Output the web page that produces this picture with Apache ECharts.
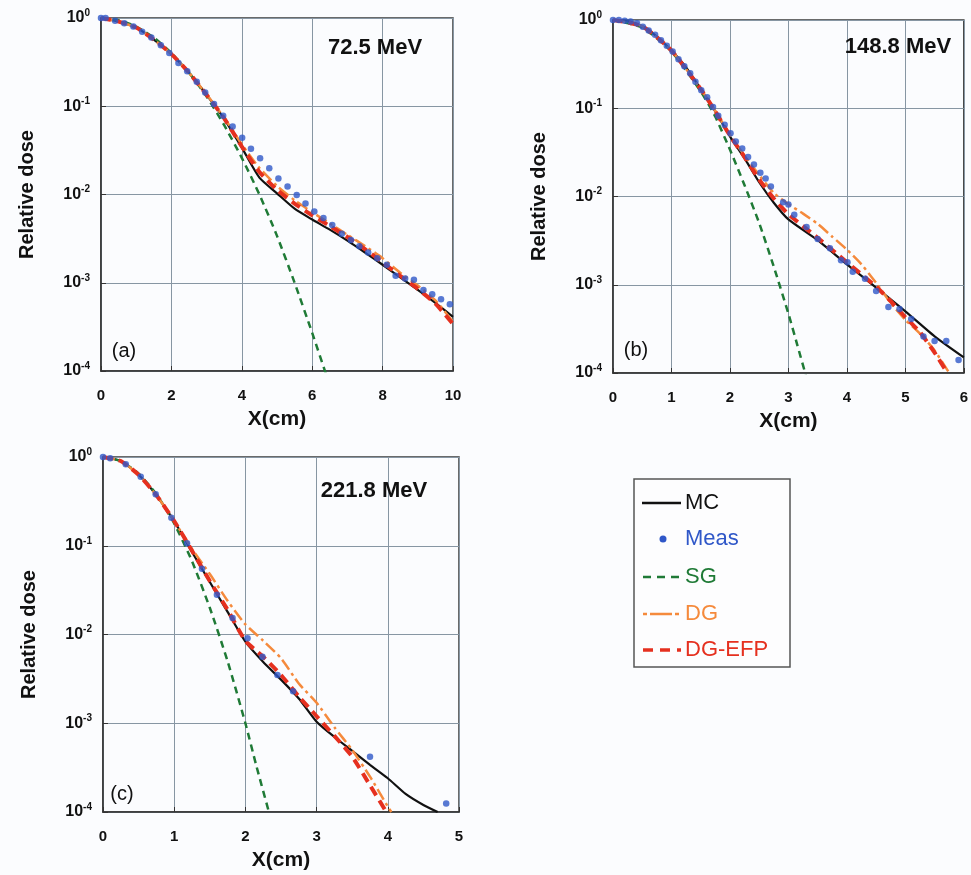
<!DOCTYPE html>
<html>
<head>
<meta charset="utf-8">
<script src="https://cdn.jsdelivr.net/npm/echarts@6/dist/echarts.min.js"></script>
<style>
html,body{margin:0;padding:0;background:#fbfcfe;}
#c{width:971px;height:875px;}
</style>
</head>
<body>
<div id="c"></div>
<script>
// ---------- Panel (a) 72.5 MeV ----------
const a_mc_x  = [0,0.5,1,1.5,2,2.5,3,3.5,4,4.5,5,5.5,6,6.5,7,7.5,8,8.5,9,9.5,10];
const a_mc_y  = [1,0.91,0.78,0.57,0.39,0.24,0.135,0.072,0.034,0.0155,0.0103,0.0069,0.0052,0.0040,0.0030,0.0022,0.0016,0.00115,0.00083,0.00059,0.00041];
const a_sg_x  = [0,0.5,1,1.5,2,2.5,3,3.5,4,4.5,5,5.5,6,6.4];
const a_sg_y  = [1,0.945,0.80,0.60,0.40,0.24,0.129,0.061,0.026,0.0100,0.0034,0.0010,0.00027,0.00009];
const a_dg_x  = [0,0.5,1,1.5,2,2.5,3,3.5,4,4.5,5,5.5,6,6.5,7,7.5,8,8.5,9,9.5,10];
const a_dg_y  = [1,0.91,0.78,0.57,0.39,0.24,0.136,0.074,0.037,0.020,0.0125,0.0086,0.0063,0.0047,0.0035,0.0026,0.0019,0.0013,0.00093,0.00063,0.00036];
const a_efp_x = [0,0.5,1,1.5,2,2.5,3,3.5,4,4.5,5,5.5,6,6.5,7,7.5,8,8.5,9,9.5,10];
const a_efp_y = [1,0.91,0.78,0.57,0.39,0.24,0.135,0.073,0.035,0.018,0.0113,0.0079,0.0058,0.0044,0.0033,0.0024,0.0017,0.0012,0.00085,0.00058,0.00034];
const a_meas_x = [0,0.13,0.40,0.66,0.92,1.17,1.43,1.70,1.94,2.20,2.45,2.72,2.96,3.21,3.47,3.74,4.01,4.26,4.52,4.78,5.04,5.30,5.56,5.81,6.06,6.32,6.57,6.84,7.10,7.34,7.59,7.85,8.12,8.37,8.64,8.89,9.16,9.41,9.66,9.91];
const a_meas_y = [1.0,1.0,0.93,0.87,0.80,0.70,0.60,0.49,0.40,0.31,0.25,0.19,0.143,0.106,0.078,0.059,0.044,0.033,0.0257,0.0199,0.0152,0.0123,0.0099,0.0079,0.0064,0.0054,0.0045,0.0036,0.00305,0.0026,0.0022,0.0019,0.0016,0.0012,0.00112,0.00108,0.00083,0.00074,0.00065,0.00057];

// ---------- Panel (b) 148.8 MeV ----------
const b_mc_x  = [0,0.25,0.5,0.75,1,1.25,1.5,1.75,2,2.25,2.5,2.75,3,3.5,4,4.5,5,5.5,6];
const b_mc_y  = [1,0.975,0.85,0.65,0.45,0.29,0.165,0.092,0.048,0.027,0.0145,0.0085,0.0055,0.0032,0.0017,0.00093,0.00050,0.00026,0.00015];
const b_sg_x  = [0,0.5,1,1.5,1.75,2,2.25,2.5,2.75,3,3.15,3.3];
const b_sg_y  = [1,0.82,0.44,0.155,0.080,0.034,0.0134,0.0050,0.0016,0.00047,0.00021,0.000093];
const b_dg_x  = [0,0.5,1,1.5,1.75,2,2.25,2.5,2.75,3,3.25,3.5,3.75,4,4.25,4.5,4.75,5,5.25,5.5,5.75];
const b_dg_y  = [1,0.85,0.45,0.165,0.093,0.050,0.029,0.0175,0.0110,0.0082,0.0064,0.0049,0.0035,0.0025,0.0017,0.00105,0.00062,0.00040,0.00028,0.00018,0.0001];
const b_efp_x = [0,0.5,1,1.5,1.75,2,2.25,2.5,2.75,3,3.5,4,4.5,4.75,5,5.25,5.5,5.72];
const b_efp_y = [1,0.85,0.45,0.165,0.092,0.049,0.028,0.0155,0.0095,0.0063,0.0034,0.0018,0.00095,0.00065,0.00043,0.00029,0.00017,0.0001];
const b_meas_x = [0,0.10,0.20,0.30,0.41,0.51,0.61,0.72,0.82,0.92,1.02,1.12,1.22,1.32,1.41,1.51,1.61,1.71,1.80,1.91,2.01,2.10,2.21,2.31,2.41,2.52,2.61,2.70,2.91,3.00,3.10,3.31,3.50,3.71,3.90,4.01,4.10,4.31,4.50,4.71,4.90,5.10,5.31,5.50,5.70,5.91];
const b_meas_y = [1.0,1.0,0.98,0.96,0.92,0.84,0.76,0.68,0.59,0.51,0.44,0.36,0.30,0.25,0.20,0.16,0.133,0.103,0.082,0.065,0.052,0.042,0.035,0.028,0.023,0.0186,0.0160,0.0130,0.0086,0.0081,0.0062,0.0045,0.0033,0.0026,0.0019,0.0018,0.0014,0.00117,0.00085,0.00056,0.00053,0.00041,0.00026,0.00023,0.00023,0.00014];

// ---------- Panel (c) 221.8 MeV ----------
const c_mc_x  = [0,0.25,0.5,0.75,1,1.25,1.5,1.75,2,2.25,2.5,2.75,3,3.25,3.5,3.75,4,4.25,4.5,4.7];
const c_mc_y  = [1,0.9,0.63,0.37,0.19,0.085,0.039,0.018,0.0083,0.0049,0.0031,0.0019,0.00104,0.00070,0.00049,0.00034,0.00024,0.00016,0.00012,0.0001];
const c_sg_x  = [0,0.25,0.5,0.75,1,1.25,1.5,1.75,2,2.15,2.33];
const c_sg_y  = [1,0.9,0.65,0.38,0.178,0.067,0.020,0.005,0.001,0.00034,0.0001];
const c_dg_x  = [0,0.25,0.5,0.75,1,1.25,1.5,1.75,2,2.25,2.5,2.75,3,3.25,3.5,3.75,4,4.05];
const c_dg_y  = [1,0.9,0.63,0.37,0.19,0.092,0.048,0.024,0.013,0.0085,0.0054,0.0028,0.0017,0.0009,0.0005,0.00025,0.000115,0.0001];
const c_efp_x = [0,0.25,0.5,0.75,1,1.25,1.5,1.75,2,2.25,2.5,2.75,3,3.25,3.5,3.75,3.98];
const c_efp_y = [1,0.9,0.63,0.37,0.19,0.088,0.040,0.019,0.0085,0.0056,0.0035,0.0020,0.0012,0.00072,0.00042,0.0002,0.0001];
const c_meas_x = [0,0.10,0.32,0.53,0.74,0.96,1.18,1.39,1.60,1.82,2.03,2.24,2.45,2.67,3.75,4.82];
const c_meas_y = [1.0,0.97,0.83,0.60,0.38,0.207,0.107,0.055,0.028,0.0153,0.0091,0.0056,0.0035,0.0023,0.00042,0.000125];

// ---------- axes / labels ----------
const xMax = [10, 6, 5];
const xInterval = [2, 1, 1];
const energyLabels = ['72.5 MeV', '148.8 MeV', '221.8 MeV'];
const panelTags = ['(a)', '(b)', '(c)'];
const legendNames = ['MC', 'Meas', 'SG', 'DG', 'DG-EFP'];

const COL = {mc:'#111111', meas:'#2f57c8', sg:'#1f7a36', dg:'#f58a3c', efp:'#e5301f'};
const FONT = 'Liberation Sans, Arial, Helvetica, sans-serif';

function pts(xs, ys){ return xs.map((x,i)=>[x, ys[i]]); }

const grids = [
  {left:101, top:18, width:352, height:353},
  {left:613, top:20, width:356, height:353},
  {left:103, top:457, width:356, height:355}
].map(g => Object.assign(g, {show:true, borderColor:'#3a3a3a', borderWidth:1.5, backgroundColor:'transparent'}));

const xAxes = [0,1,2].map(i => ({
  type:'value', gridIndex:i, min:0, max:xMax[i], interval:xInterval[i],
  name:'X(cm)', nameLocation:'middle', nameGap:38,
  nameTextStyle:{fontFamily:FONT, fontWeight:'bold', fontSize:21, color:'#111'},
  axisLine:{show:true, onZero:false, lineStyle:{color:'#333', width:1.5}},
  axisTick:{show:true, inside:true, length:5, lineStyle:{color:'#333'}},
  axisLabel:{fontFamily:FONT, fontWeight:'bold', fontSize:15, color:'#111', margin:17, showMaxLabel:true, showMinLabel:true},
  splitLine:{show:true, lineStyle:{color:'#8796a3', width:1}}
}));

const yAxes = [0,1,2].map(i => ({
  type:'log', logBase:10, gridIndex:i, min:1e-4, max:1,
  name:'Relative dose', nameLocation:'middle', nameGap:64, nameRotate:90,
  nameTextStyle:{fontFamily:FONT, fontWeight:'bold', fontSize:20, color:'#111'},
  axisLine:{show:true, lineStyle:{color:'#333', width:1.5}},
  axisTick:{show:true, inside:true, length:5, lineStyle:{color:'#333'}},
  axisLabel:{
    margin:11,
    formatter: v => '{b|10}{s|' + Math.round(Math.log10(v)) + '}',
    rich:{
      b:{fontFamily:FONT, fontWeight:'bold', fontSize:16, color:'#111', lineHeight:20},
      s:{fontFamily:FONT, fontWeight:'bold', fontSize:10, color:'#111', verticalAlign:'top', lineHeight:12}
    }
  },
  splitLine:{show:true, lineStyle:{color:'#8796a3', width:1}}
}));

function lineSeries(name, gi, xs, ys, color, width, type, z){
  return {name, type:'line', xAxisIndex:gi, yAxisIndex:gi, data:pts(xs,ys),
    showSymbol:false, symbol:'none', smooth:0.2, z,
    lineStyle:{color, width, type}, animation:false};
}
function measSeries(gi, xs, ys){
  return {name:'Meas', type:'scatter', xAxisIndex:gi, yAxisIndex:gi, data:pts(xs,ys),
    symbol:'circle', symbolSize:6.5, itemStyle:{color:COL.meas}, z:10, animation:false};
}

const panels = [
  [a_mc_x,a_mc_y,a_sg_x,a_sg_y,a_dg_x,a_dg_y,a_efp_x,a_efp_y,a_meas_x,a_meas_y],
  [b_mc_x,b_mc_y,b_sg_x,b_sg_y,b_dg_x,b_dg_y,b_efp_x,b_efp_y,b_meas_x,b_meas_y],
  [c_mc_x,c_mc_y,c_sg_x,c_sg_y,c_dg_x,c_dg_y,c_efp_x,c_efp_y,c_meas_x,c_meas_y]
];

const series = [];
panels.forEach((p, gi) => {
  series.push(lineSeries('MC', gi, p[0], p[1], COL.mc, 2.2, 'solid', 3));
  series.push(lineSeries('SG', gi, p[2], p[3], COL.sg, 2.5, [7,5], 4));
  series.push(lineSeries('DG', gi, p[4], p[5], COL.dg, 2.5, [12,4,3,4], 5));
  series.push(lineSeries('DG-EFP', gi, p[6], p[7], COL.efp, 4, [10,6], 6));
  series.push(measSeries(gi, p[8], p[9]));
});

// annotation texts & legend box (graphic)
const energyPos = [[375,48],[898,47],[374,491]];
const tagPos = [[124,351],[636,350],[122,794]];
const graphic = [];
energyLabels.forEach((t,i)=>graphic.push({type:'text', x:energyPos[i][0], y:energyPos[i][1], z:20,
  style:{text:t, fontFamily:FONT, fontWeight:'bold', fontSize:22, fill:'#111', align:'center', verticalAlign:'middle'}}));
panelTags.forEach((t,i)=>graphic.push({type:'text', x:tagPos[i][0], y:tagPos[i][1], z:20,
  style:{text:t, fontFamily:FONT, fontSize:20, fill:'#111', align:'center', verticalAlign:'middle'}}));

const LX = 634, LY = 479, LW = 156, LH = 188;
graphic.push({type:'rect', shape:{x:LX, y:LY, width:LW, height:LH}, style:{fill:'#fdfdfe', stroke:'#555', lineWidth:1.5}, z:20});
const legY = [503, 539, 577, 614, 650];
const legCol = [COL.mc, COL.meas, COL.sg, COL.dg, COL.efp];
graphic.push({type:'line', shape:{x1:642,y1:legY[0],x2:681,y2:legY[0]}, style:{stroke:COL.mc, lineWidth:2.5}, z:21});
graphic.push({type:'circle', shape:{cx:663, cy:legY[1], r:3.5}, style:{fill:COL.meas}, z:21});
graphic.push({type:'line', shape:{x1:643,y1:legY[2],x2:681,y2:legY[2]}, style:{stroke:COL.sg, lineWidth:2.5, lineDash:[8,6]}, z:21});
graphic.push({type:'line', shape:{x1:643,y1:legY[3],x2:681,y2:legY[3]}, style:{stroke:COL.dg, lineWidth:2.5, lineDash:[4,3,22,3]}, z:21});
graphic.push({type:'line', shape:{x1:643,y1:legY[4],x2:681,y2:legY[4]}, style:{stroke:COL.efp, lineWidth:3.5, lineDash:[10,7]}, z:21});
legendNames.forEach((n,i)=>graphic.push({type:'text', x:685, y:legY[i], z:21,
  style:{text:n, fontFamily:FONT, fontSize:22, fill:legCol[i], align:'left', verticalAlign:'middle'}}));

const chart = echarts.init(document.getElementById('c'), null, {renderer:'canvas'});
chart.setOption({
  backgroundColor:'#fbfcfe',
  animation:false,
  grid: grids,
  xAxis: xAxes,
  yAxis: yAxes,
  series: series,
  graphic: graphic
});
</script>
</body>
</html>
